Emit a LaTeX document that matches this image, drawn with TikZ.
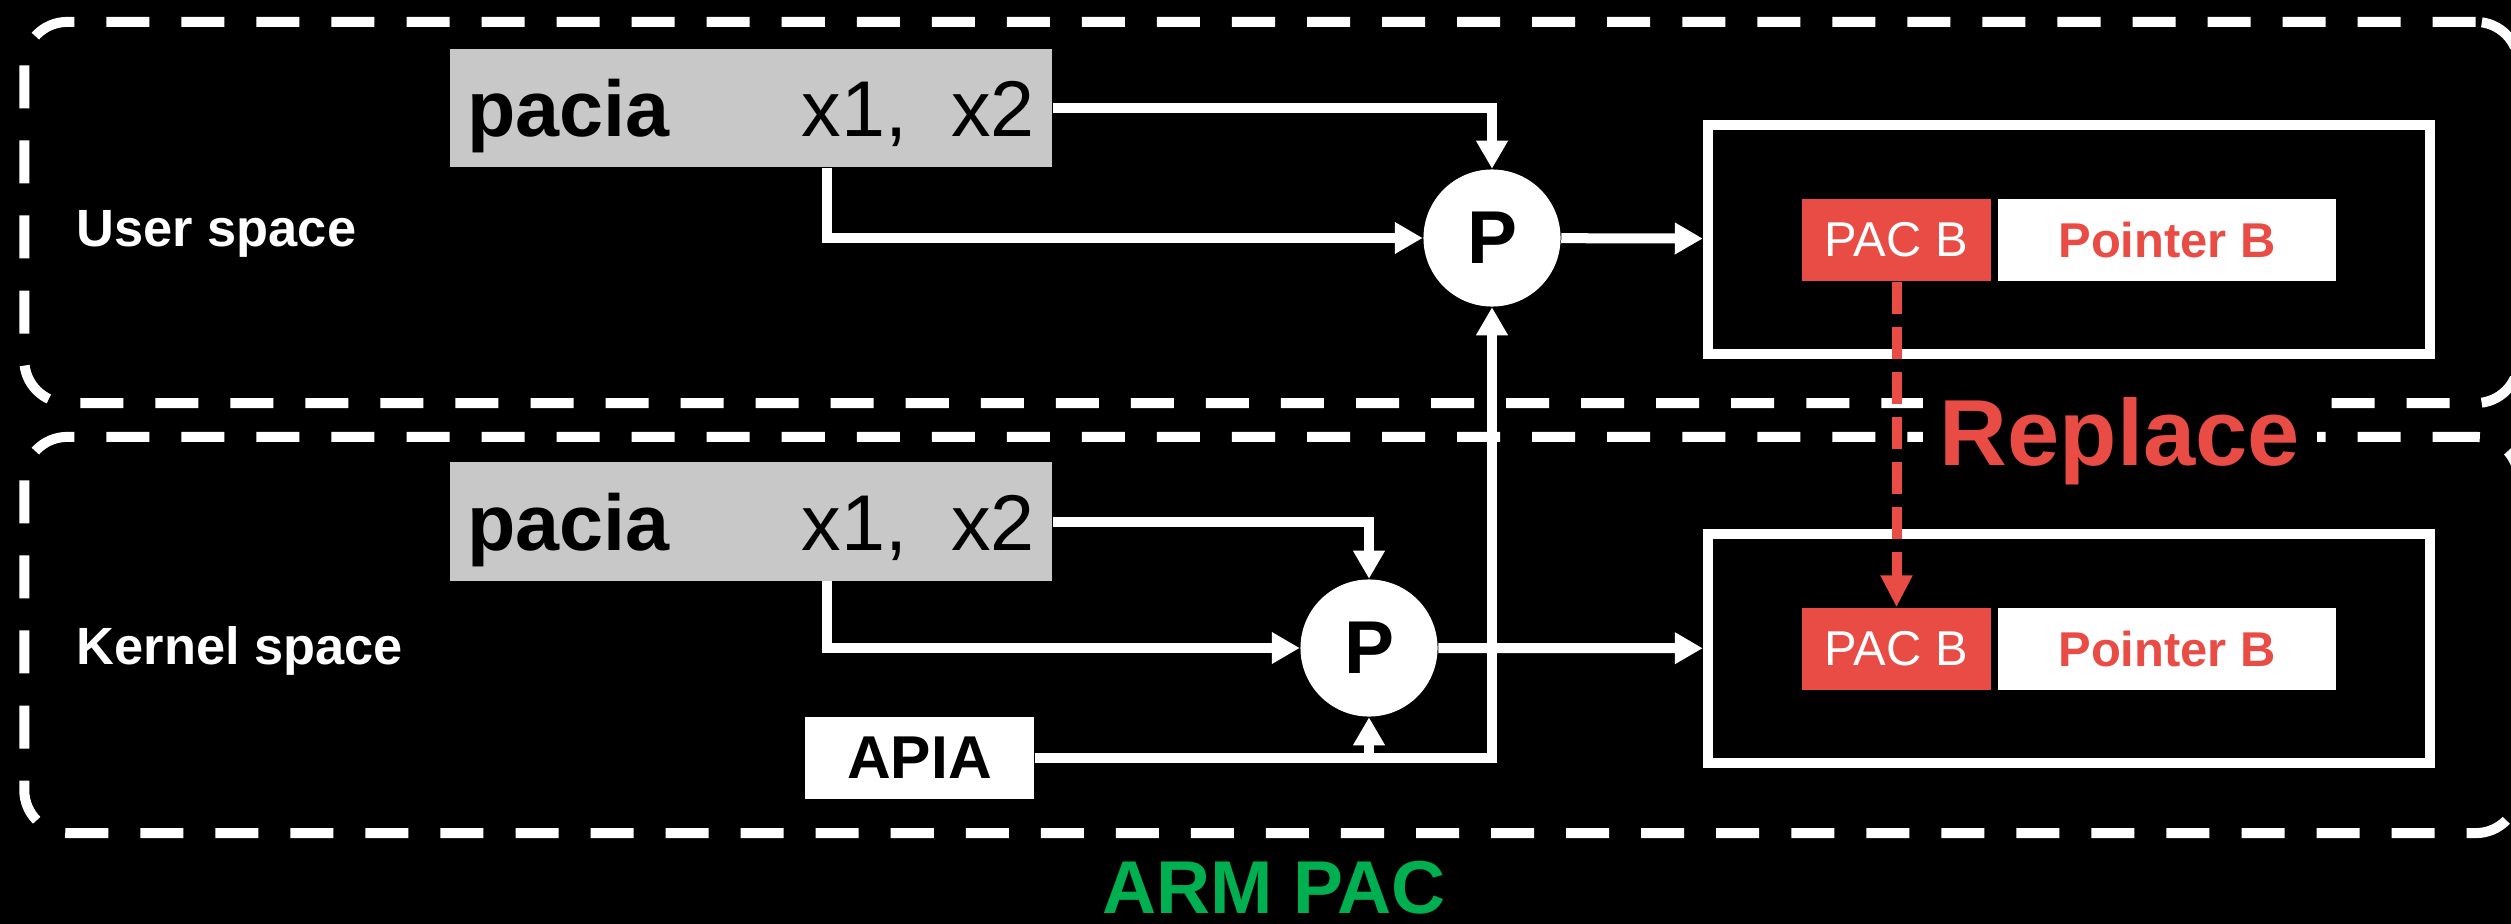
\documentclass[tikz,border=0pt]{standalone}
\usepackage{fontspec}
\setmainfont{Liberation Sans}
\usepackage{tikz}
\usetikzlibrary{positioning,arrows.meta,calc}

\definecolor{pacred}{HTML}{E94C45}
\definecolor{armgreen}{HTML}{00B050}
\definecolor{codegray}{HTML}{C8C8C8}

\begin{document}
\begin{tikzpicture}[
    x=0.01cm, y=-0.01cm,
    space_box/.style={draw=white, line width=0.1cm, dash pattern=on 0.43cm off 0.32cm, rounded corners=0.43cm, minimum width=24.93cm, inner sep=0pt},
    space_label/.style={text=white, anchor=west, text depth=0pt, inner sep=0pt, font=\bfseries\fontsize{14.9}{18}\selectfont},
    code_box/.style={fill=codegray, minimum width=6.02cm, minimum height=1.18cm, inner sep=0pt, text depth=0pt, font=\fontsize{22.5}{27}\selectfont},
    key_box/.style={fill=white, minimum width=2.29cm, minimum height=0.82cm, inner sep=0pt, font=\bfseries\fontsize{17.2}{20}\selectfont},
    prod_node/.style={circle, fill=white, minimum size=1.37cm, inner sep=0pt, font=\bfseries\fontsize{21.3}{25}\selectfont},
    ptr_box/.style={draw=white, line width=0.1cm, minimum width=7.22cm, minimum height=2.29cm, inner sep=0pt},
    pac_box/.style={fill=pacred, text=white, minimum width=1.89cm, minimum height=0.82cm, inner sep=0pt, font=\fontsize{13.9}{17}\selectfont},
    addr_box/.style={fill=white, text=pacred, minimum width=3.37cm, minimum height=0.82cm, inner sep=0pt, font=\bfseries\fontsize{13.9}{17}\selectfont},
    arrow/.style={-{Triangle[width=0.3cm,length=0.28cm]}, line width=0.1cm, white},
    replace_arrow/.style={-{Triangle[width=0.3cm,length=0.32cm]}, line width=0.1cm, pacred, dash pattern=on 0.32cm off 0.13cm}
]
\useasboundingbox (0,0) rectangle (2511,924);
\fill[black] (0,0) rectangle (2511,924);

% SPACES
\node[space_box, minimum height=3.81cm] (userspace) at (1271.5,212.5) {};
\node[space_box, minimum height=3.96cm] (kernelspace) at (1271.5,635) {};
\node[space_label] (userlbl) at (76,228.5) {User space};
\node[space_label] (kernlbl) at (76,646) {Kernel space};

\node[text=pacred, fill=black, inner xsep=0.17cm, inner ysep=0.04cm, text depth=0pt, font=\bfseries\fontsize{26.7}{32}\selectfont] (replace) at (2120,431) {Replace};

% USER SPACE
\node[code_box] (pacU) at (751,108) {\textbf{pacia}\hspace{1.32cm}x1,\ \ x2};
\node[prod_node] (pU) at (1492,238) {P};
\node[ptr_box] (outU) at (2069,239.5) {};
\node[pac_box] (pacbU) at (1896.5,240) {PAC B};
\node[addr_box, right=0.06cm of pacbU] (ptrU) {Pointer B};

% KERNEL SPACE
\node[code_box] (pacK) at (751,521.5) {\textbf{pacia}\hspace{1.32cm}x1,\ \ x2};
\node[prod_node] (pK) at (1369,648) {P};
\node[key_box] (apia) at (919.5,758) {APIA};
\node[ptr_box] (outK) at (2069,648.5) {};
\node[pac_box] (pacbK) at (1896.5,649) {PAC B};
\node[addr_box, right=0.06cm of pacbK] (ptrK) {Pointer B};

\node[text=armgreen, text depth=0pt, inner sep=0pt, font=\bfseries\fontsize{21.3}{25}\selectfont] (armpac) at (1274,887) {ARM PAC};

% ARROWS
\draw[arrow] (pacU.east) -| (pU.north);
\draw[arrow] ([xshift=3.78cm]pacU.south west) |- (pU.west);
\draw[arrow] (pU) -- (outU);

\draw[arrow] (pacK.east) -| (pK.north);
\draw[arrow] ([xshift=3.78cm]pacK.south west) |- (pK.west);
\draw[arrow] (pK) -- (outK);

\draw[arrow] (apia.east) -| (pU.south);
\draw[arrow] (apia.east) -| (pK.south);

\draw[replace_arrow] (pacbU.south) -- (pacbK.north);

\end{tikzpicture}
\end{document}
